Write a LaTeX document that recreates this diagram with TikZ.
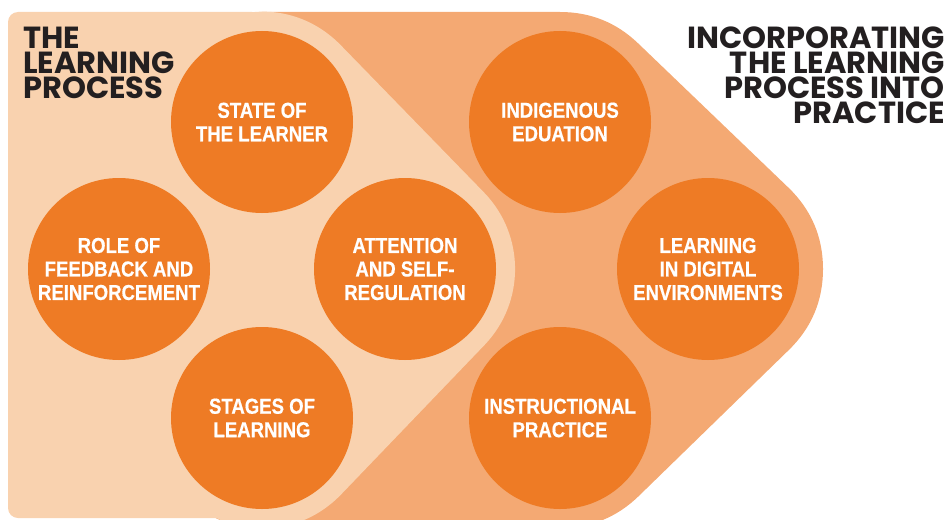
\documentclass[tikz,border=0pt]{standalone}
\usepackage{fontspec}
\usepackage{xcolor}
\definecolor{PeachLight}{HTML}{F9D2AF}
\definecolor{PeachMid}{HTML}{F4A973}
\definecolor{LearnOrange}{HTML}{EE7B25}
\definecolor{TitleBlack}{HTML}{231F20}
\newfontfamily\headfont{Poppins}
\newfontfamily\circfont[FakeStretch=0.86, UprightFont={* Bold}, FakeBold=0.6]{Liberation Sans}
\newcommand{\topictext}{\circfont\fontsize{21.6}{23.5}\selectfont}
\newcommand{\headtext}{\headfont\bfseries\fontsize{30.5}{25}\selectfont}

\begin{document}
\begin{tikzpicture}[x=1pt, y=-1pt,
    topic/.style={circle, fill=LearnOrange, minimum size=182pt, inner sep=0pt, text=white, align=center, font=\topictext},
    heading/.style={inner sep=0pt, text=TitleBlack, font=\headtext}]
      \useasboundingbox (0,0) rectangle (947,519);
      \clip (0,0) rectangle (947,519);
      % Bands
      \filldraw[PeachMid, line width=226pt, line join=round] (262,125) -- (560,125) -- (710,269) -- (560,415) -- (262,415) -- cycle;
      \filldraw[PeachLight, line width=220pt, line join=round] (262,122) -- (405,269) -- (262,418) -- cycle;
      \fill[PeachLight, rounded corners=10pt] (8,12) rectangle (262,518);
      % Titles
      \node[heading, anchor=north west, align=left] (process) at (23,27) {THE\\LEARNING\\PROCESS};
      \node[heading, anchor=north east, align=right] (practice) at (945,27) {INCORPORATING\\THE LEARNING\\PROCESS INTO\\PRACTICE};
      % Nodes
      \node[topic] (state) at (262,122) {STATE OF\\THE LEARNER};
      \node[topic] (feedback) at (119,269) {ROLE OF\\FEEDBACK AND\\REINFORCEMENT};
      \node[topic] (attention) at (405,269) {ATTENTION\\AND SELF-\\REGULATION};
      \node[topic] (stages) at (262,418) {STAGES OF\\LEARNING};
      \node[topic] (indigenous) at (560,122) {INDIGENOUS\\EDUATION};
      \node[topic] (digital) at (708,269) {LEARNING\\IN DIGITAL\\ENVIRONMENTS};
      \node[topic] (instruction) at (560,418) {INSTRUCTIONAL\\PRACTICE};
    \end{tikzpicture}
\end{document}
